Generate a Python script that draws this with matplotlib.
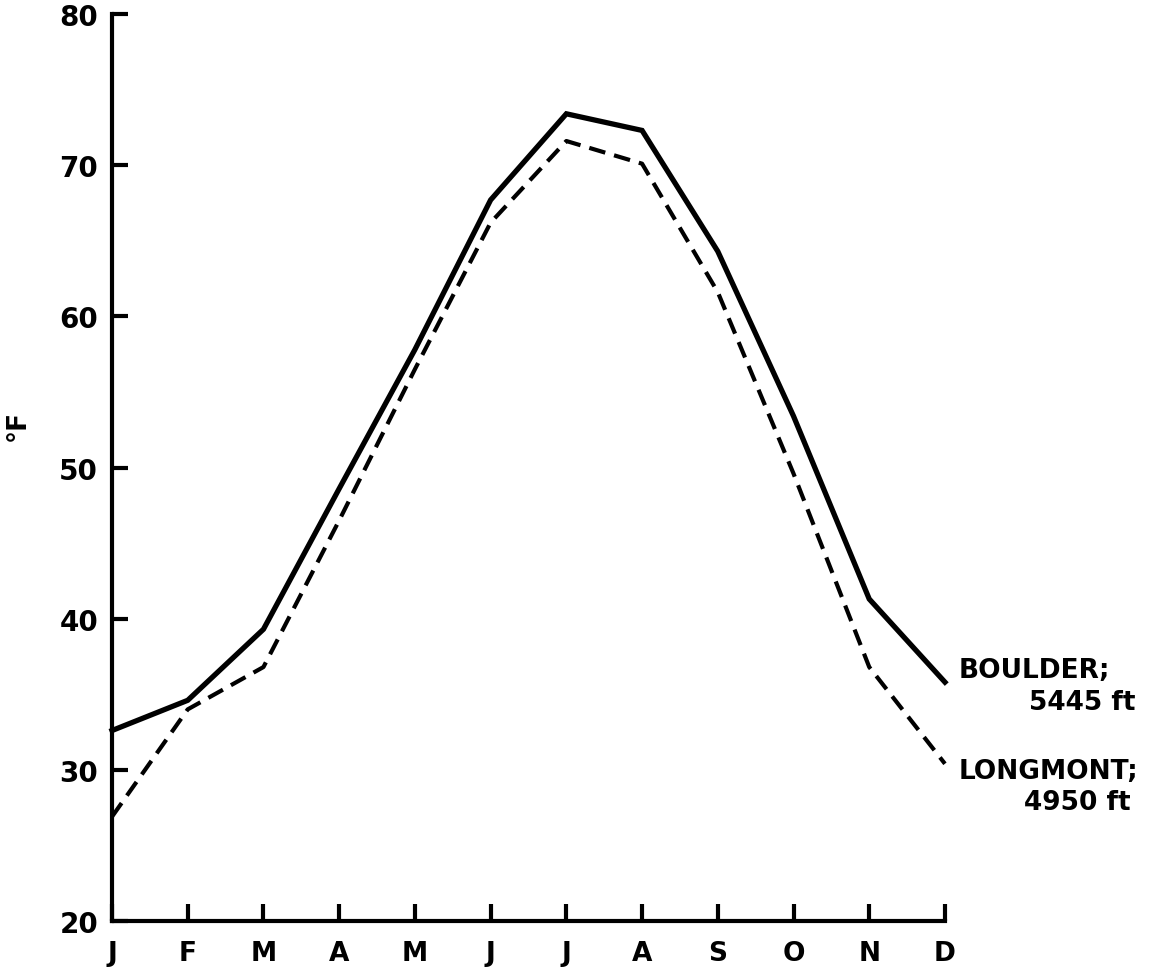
import matplotlib
matplotlib.use('Agg')
import matplotlib.pyplot as plt

# Temperatura media mensual (°F)
meses = ['J', 'F', 'M', 'A', 'M', 'J', 'J', 'A', 'S', 'O', 'N', 'D']
boulder = [32.6, 34.6, 39.3, 48.6, 57.8, 67.7, 73.4, 72.3, 64.3, 53.4, 41.3, 35.8]
longmont = [26.9, 34.0, 36.8, 46.5, 56.5, 66.2, 71.6, 70.1, 61.6, 49.6, 36.8, 30.4]

etiqueta_boulder = ['BOULDER;', '5445 ft']
etiqueta_longmont = ['LONGMONT;', '4950 ft']

plt.rcParams['font.family'] = ['DejaVu Sans']
plt.rcParams['font.weight'] = 'bold'

fig = plt.figure(figsize=(11.5, 9.7), dpi=100)
ax = fig.add_axes([0.0974, 0.0495, 0.7243, 0.935])

x = list(range(len(meses)))
ax.plot(x, boulder, color='black', lw=3.8, solid_joinstyle='miter', clip_on=False)
ax.plot(x, longmont, color='black', lw=3.0, linestyle=(0, (4.0, 2.2)), clip_on=False)

ax.set_xlim(0, 11)
ax.set_ylim(20, 80)
ax.set_xticks(x)
ax.set_xticklabels(meses, fontsize=19, fontweight='bold')
ax.set_yticks(range(20, 81, 10))
ax.set_yticklabels([str(v) for v in range(20, 81, 10)], fontsize=20, fontweight='bold')

for lado in ['top', 'right']:
    ax.spines[lado].set_visible(False)
for lado in ['left', 'bottom']:
    ax.spines[lado].set_linewidth(3)

ax.tick_params(axis='y', direction='in', length=11.5, width=3, pad=10)
ax.tick_params(axis='x', direction='in', length=12, width=3, pad=14)

ax.set_ylabel('°F', fontsize=19, fontweight='bold')
ax.yaxis.set_label_coords(-0.097, 0.548)

# Etiquetas de las series
ax.text(11.18, 36.6, etiqueta_boulder[0], fontsize=19, fontweight='bold',
        ha='left', va='center', clip_on=False)
ax.text(13.51, 34.5, etiqueta_boulder[1], fontsize=19, fontweight='bold',
        ha='right', va='center', clip_on=False)
ax.text(11.18, 29.9, etiqueta_longmont[0], fontsize=19, fontweight='bold',
        ha='left', va='center', clip_on=False)
ax.text(13.45, 27.9, etiqueta_longmont[1], fontsize=19, fontweight='bold',
        ha='right', va='center', clip_on=False)

fig.savefig('out.png', dpi=100)
